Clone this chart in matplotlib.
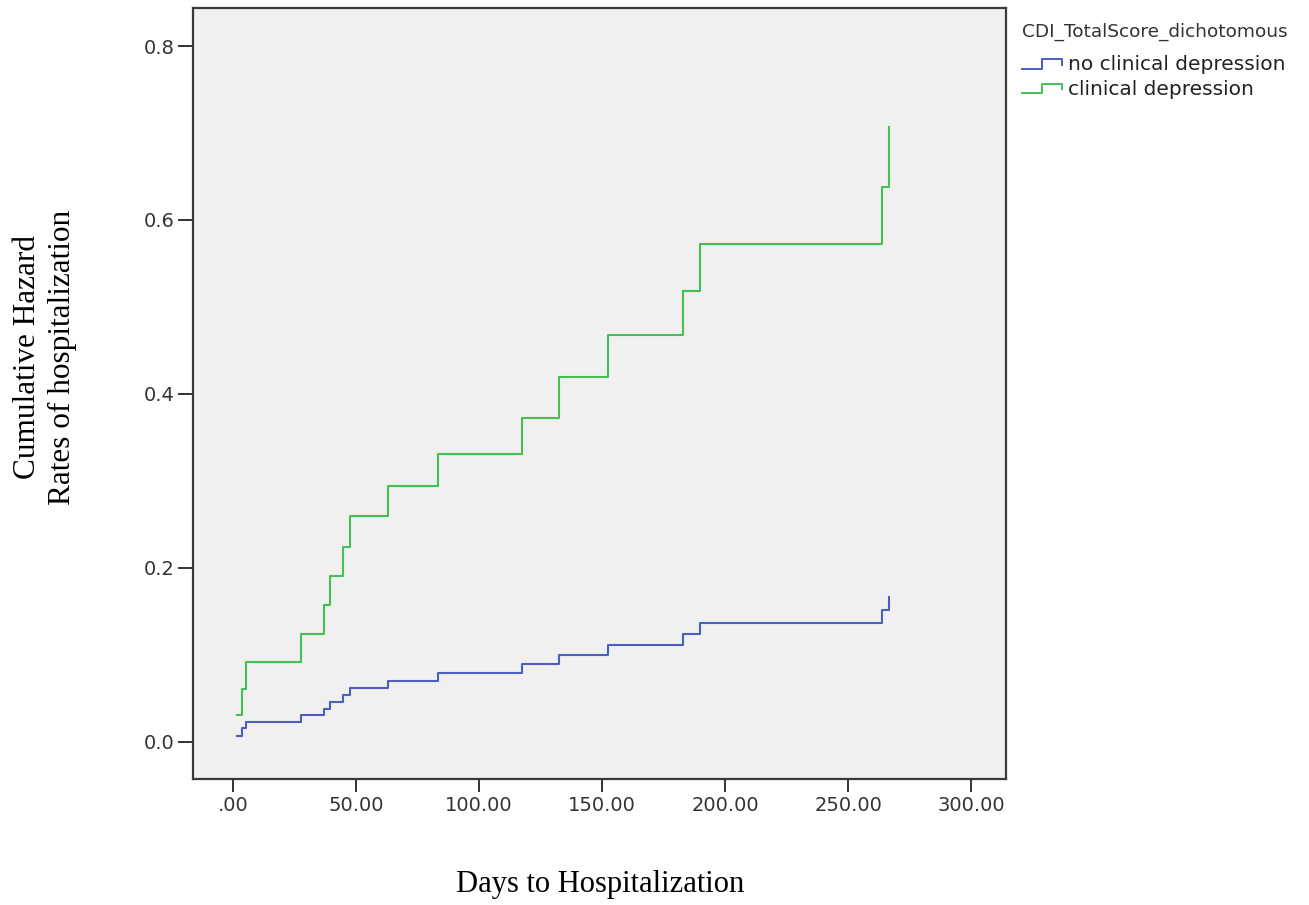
import matplotlib
matplotlib.use("Agg")
import matplotlib.pyplot as plt
from matplotlib.lines import Line2D
from matplotlib.legend_handler import HandlerBase

# ---- data ----
event_days = [1.6, 3.7, 5.3, 27.7, 37.0, 39.5, 44.8, 47.6, 63.0, 83.4,
              117.6, 132.3, 152.6, 182.7, 189.7, 263.7, 266.6]
hazard_no_depression = [0.007, 0.016, 0.023, 0.031, 0.038, 0.046, 0.054, 0.062,
                        0.070, 0.079, 0.089, 0.100, 0.111, 0.124, 0.136, 0.151, 0.166]
hazard_depression = [0.031, 0.061, 0.092, 0.124, 0.157, 0.191, 0.224, 0.259,
                     0.294, 0.331, 0.372, 0.419, 0.468, 0.518, 0.572, 0.638, 0.707]
series_labels = ["no clinical depression", "clinical depression"]
legend_title = "CDI_TotalScore_dichotomous"
x_ticks = [0, 50, 100, 150, 200, 250, 300]
x_tick_labels = [".00", "50.00", "100.00", "150.00", "200.00", "250.00", "300.00"]
y_ticks = [0.0, 0.2, 0.4, 0.6, 0.8]
y_tick_labels = ["0.0", "0.2", "0.4", "0.6", "0.8"]

BLUE = "#4a5fbf"
GREEN = "#45c052"

W, H = 1309, 905
fig = plt.figure(figsize=(W / 100, H / 100), dpi=100)
fig.patch.set_facecolor("white")

left, right, top, bottom = 193, 1006, 8, 779
ax = fig.add_axes([left / W, 1 - bottom / H, (right - left) / W, (bottom - top) / H])
ax.set_facecolor("#f0f0f0")

ax.plot(event_days, hazard_no_depression, drawstyle="steps-post", color=BLUE, lw=1.5)
ax.plot(event_days, hazard_depression, drawstyle="steps-post", color=GREEN, lw=1.5)

ax.set_xlim(-16.3, 314.2)
ax.set_ylim(-0.0429, 0.8437)
ax.set_xticks(x_ticks)
ax.set_xticklabels(x_tick_labels)
ax.set_yticks(y_ticks)
ax.set_yticklabels(y_tick_labels)

for s in ax.spines.values():
    s.set_color("#3a3a3a")
    s.set_linewidth(1.6)
ax.tick_params(axis="x", direction="out", length=9, width=1.3, color="#222222",
               labelsize=14, labelcolor="#333333", pad=3)
ax.tick_params(axis="y", direction="out", length=11, width=1.3, color="#222222",
               labelsize=14, labelcolor="#333333", pad=2)

serif = ["Liberation Serif", "DejaVu Serif"]
fig.text(600 / W, 1 - 884 / H, "Days to Hospitalization", ha="center", va="center",
         fontsize=22, family=serif, color="black")
fig.text(45 / W, 1 - 357 / H, "Cumulative Hazard\nRates of hospitalization", ha="center",
         va="center", rotation=90, fontsize=22.5, family=serif, color="black",
         multialignment="center", linespacing=1.3)


class StepHandler(HandlerBase):
    def create_artists(self, legend, orig_handle, xdescent, ydescent, width, height,
                       fontsize, trans):
        x0 = -xdescent
        y0 = -ydescent
        xs = [x0, x0 + 0.5 * width, x0 + 0.5 * width, x0 + width, x0 + width]
        ys = [y0 + 0.1 * height, y0 + 0.1 * height, y0 + 0.8 * height,
              y0 + 0.8 * height, y0 + 0.4 * height]
        ln = Line2D(xs, ys, color=orig_handle.get_color(), lw=1.4, transform=trans)
        return [ln]


handles = [Line2D([], [], color=BLUE), Line2D([], [], color=GREEN)]
leg = fig.legend(handles, series_labels, title=legend_title,
                 loc="upper left", bbox_to_anchor=(1014 / W, 1 - 15 / H),
                 frameon=False, fontsize=14.5, title_fontsize=13.3,
                 handler_map={Line2D: StepHandler()}, handlelength=2.0,
                 handletextpad=0.3, labelspacing=0.28, borderaxespad=0,
                 alignment="left")
leg._legend_box.sep = 10
for t in leg.get_texts():
    t.set_color("#222222")
leg.get_title().set_color("#333333")

fig.savefig("out.png", dpi=100)
